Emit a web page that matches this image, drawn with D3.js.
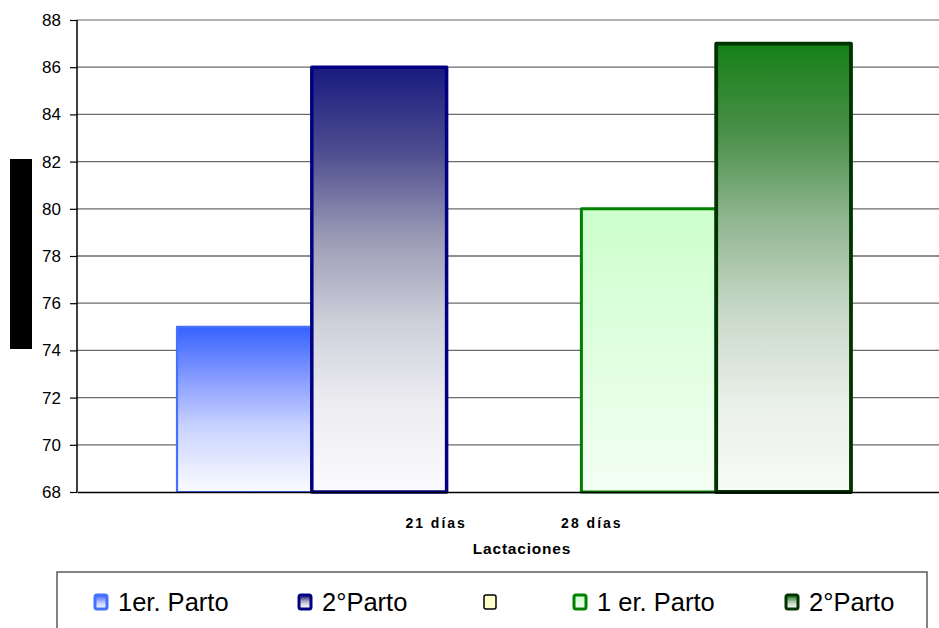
<!DOCTYPE html>
<html>
<head>
<meta charset="utf-8">
<script src="https://cdn.jsdelivr.net/npm/d3@7/dist/d3.min.js"></script>
<style>
  html, body { margin: 0; padding: 0; background: #fff; }
  svg { display: block; font-family: "Liberation Sans", Arial, sans-serif; }
</style>
</head>
<body>
<svg id="chart" width="939" height="628"></svg>
<script>
// One category, five series (the third one is empty)
const categories = ["21 días                28 días"];
const seriesNames = ["1er. Parto", "2°Parto", "", "1 er. Parto", "2°Parto"];
const seriesValues = [75, 86, null, 80, 87];
const yTicks = [68, 70, 72, 74, 76, 78, 80, 82, 84, 86, 88];
const xTitle = "Lactaciones";

// Visual style per series: border colour, border width, gradient stops (top → bottom)
const seriesStyle = [
  { stroke: "#4472ff", width: 2.2, stops: [[0, "#3563ff"], [0.3, "#8499ff"], [0.6, "#c8d2ff"], [1, "#fbfcff"]] },
  { stroke: "#000080", width: 3.5, stops: [[0, "#1a1a80"], [0.2, "#4d4d90"], [0.4, "#9a9ab5"], [0.6, "#cfcfdb"], [0.8, "#ededf1"], [1, "#fbfbfd"]] },
  { stroke: "#000000", width: 1.5, stops: [[0, "#ffffcc"], [1, "#ffffcc"]] },
  { stroke: "#008000", width: 3, stops: [[0, "#ccffcc"], [1, "#f4fff4"]] },
  { stroke: "#003300", width: 3.8, stops: [[0, "#168016"], [0.2, "#4a904a"], [0.4, "#93b793"], [0.6, "#c9d9c9"], [0.8, "#e9efe9"], [1, "#f9fbf9"]] }
];

const svg = d3.select("#chart");
const plot = { left: 77, right: 951, top: 20, bottom: 492 };

const defs = svg.append("defs");
seriesStyle.forEach((s, i) => {
  const g = defs.append("linearGradient")
    .attr("id", "grad" + i)
    .attr("x1", 0).attr("y1", 0).attr("x2", 0).attr("y2", 1);
  s.stops.forEach(([o, c]) => g.append("stop").attr("offset", o).attr("stop-color", c));
});

// Scales
const y = d3.scaleLinear().domain([68, 88]).range([plot.bottom, plot.top]);
const x0 = d3.scaleBand().domain(categories).range([plot.left, plot.right]).padding(0);
const x1 = d3.scaleBand().domain(d3.range(seriesNames.length))
  .range([0, x0.bandwidth()]).paddingInner(0).paddingOuter(0.742);

// Y-axis title placeholder block
svg.append("rect").attr("x", 10).attr("y", 159).attr("width", 22).attr("height", 190).attr("fill", "#000");

// Gridlines
svg.append("g").selectAll("line").data(yTicks.slice(1)).join("line")
  .attr("x1", plot.left).attr("x2", plot.right)
  .attr("y1", d => y(d)).attr("y2", d => y(d))
  .attr("stroke", d => d === 88 ? "#9a9a9a" : "#6a6a6a")
  .attr("stroke-width", 1.3);

// Bars
const bars = svg.append("g");
categories.forEach(cat => {
  seriesValues.forEach((v, i) => {
    if (v == null) return;
    const s = seriesStyle[i];
    bars.append("rect")
      .attr("x", x0(cat) + x1(i))
      .attr("y", y(v))
      .attr("width", x1.bandwidth())
      .attr("height", y(68) - y(v))
      .attr("fill", `url(#grad${i})`)
      .attr("stroke", s.stroke)
      .attr("stroke-width", s.width)
      .attr("stroke-linejoin", "round");
  });
});

// Y axis
const yAxis = d3.axisLeft(y).tickValues(yTicks).tickSize(7).tickPadding(9).tickFormat(d3.format("d"));
const yg = svg.append("g").attr("transform", `translate(${plot.left},0)`).call(yAxis);
yg.select(".domain").attr("stroke", "#000").attr("stroke-width", 1.5).attr("d", `M0,${plot.top}V${plot.bottom}`);
yg.selectAll(".tick line").attr("stroke", "#000").attr("stroke-width", 1.2);
yg.selectAll(".tick text").attr("font-size", 17).attr("fill", "#000")
  .attr("font-family", "'Liberation Sans', Arial, sans-serif");

// X axis baseline and category label
const xAxis = d3.axisBottom(x0).tickSize(0).tickPadding(26);
const xg = svg.append("g").attr("transform", `translate(0,${plot.bottom})`).call(xAxis);
xg.select(".domain").attr("stroke", "#000").attr("stroke-width", 1.5);
xg.selectAll(".tick text")
  .style("white-space", "pre")
  .attr("font-size", 14).attr("font-weight", "bold").attr("letter-spacing", 2)
  .attr("fill", "#000")
  .attr("font-family", "'Liberation Sans', Arial, sans-serif");

// X axis title
svg.append("text")
  .attr("x", 522).attr("y", 554)
  .attr("text-anchor", "middle")
  .attr("font-size", 15.5).attr("font-weight", "bold").attr("letter-spacing", 0.8)
  .text(xTitle);

// Legend
svg.append("rect").attr("x", 57).attr("y", 572).attr("width", 870).attr("height", 80)
  .attr("fill", "#fff").attr("stroke", "#333").attr("stroke-width", 1.2);

const legendX = [95, 299, 484, 574, 786];
const leg = svg.append("g").selectAll("g").data(seriesNames).join("g")
  .attr("transform", (d, i) => `translate(${legendX[i]},595)`);
leg.append("rect")
  .attr("x", 0).attr("y", 0).attr("width", 12).attr("height", 14).attr("rx", 2)
  .attr("fill", (d, i) => `url(#grad${i})`)
  .attr("stroke", (d, i) => seriesStyle[i].stroke)
  .attr("stroke-width", (d, i) => i === 2 ? 1.5 : 3);
leg.append("text")
  .attr("x", 23).attr("y", 16)
  .attr("font-size", 25.5)
  .text(d => d);
</script>
</body>
</html>
